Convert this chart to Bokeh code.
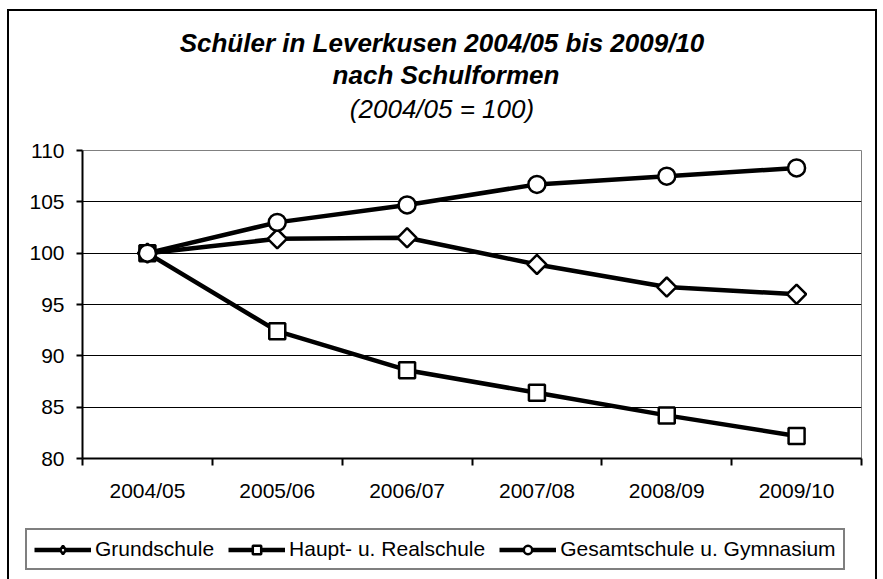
from bokeh.plotting import figure
from bokeh.layouts import column
from bokeh.models import Range1d, FixedTicker, Label, Legend, LegendItem
from bokeh.embed import file_html
from bokeh.resources import INLINE
import math

years = ["2004/05", "2005/06", "2006/07", "2007/08", "2008/09", "2009/10"]
grundschule = [100.0, 101.4, 101.5, 98.9, 96.7, 96.0]
haupt_real = [100.0, 92.4, 88.6, 86.4, 84.2, 82.2]
gesamt_gym = [100.0, 103.0, 104.7, 106.7, 107.5, 108.3]
y_ticks = [80, 85, 90, 95, 100, 105, 110]

title1 = "Schüler in Leverkusen 2004/05 bis 2009/10"
title2 = "nach Schulformen"
subtitle = "(2004/05 = 100)"
names = ["Grundschule", "Haupt- u. Realschule", "Gesamtschule u. Gymnasium"]

FONT = "Liberation Sans"
W, HT, HA, HB = 866, 120, 395, 53

xs = [i + 0.5 for i in range(len(years))]


def blank_figure(height):
    f = figure(width=W, height=height, output_backend="svg", toolbar_location=None,
               x_axis_type=None, y_axis_type=None, min_border=0,
               x_range=Range1d(0, 1), y_range=Range1d(0, 1))
    f.frame_align = False
    f.outline_line_color = None
    f.xgrid.grid_line_color = None
    f.ygrid.grid_line_color = None
    f.background_fill_color = "white"
    f.border_fill_color = "white"
    return f


# ---- title strip
t = blank_figure(HT)
for txt, tx, ty, style in [(title1, 432.5, 89.0, "bold italic"),
                           (title2, 436.5, 57.0, "bold italic"),
                           (subtitle, 432.5, 23.0, "italic")]:
    t.add_layout(Label(x=tx, y=ty, x_units="screen", y_units="screen", text=txt,
                       text_font=FONT, text_font_size="26px", text_font_style=style,
                       text_align="center", text_baseline="alphabetic", text_color="black"))

# ---- main plot
p = figure(width=W, height=HA, output_backend="svg", toolbar_location=None,
           x_range=Range1d(0, len(years)), y_range=Range1d(y_ticks[0], y_ticks[-1]),
           min_border_left=73, min_border_right=14, min_border_top=19, min_border_bottom=68)
p.frame_align = False
p.background_fill_color = "white"
p.border_fill_color = "white"
p.outline_line_color = "#808080"
p.outline_line_width = 1

p.xaxis.ticker = FixedTicker(ticks=xs, minor_ticks=list(range(len(years) + 1)))
p.xaxis.major_label_overrides = {x: y for x, y in zip(xs, years)}
p.xaxis.major_tick_out = 0
p.xaxis.major_tick_in = 0
p.xaxis.minor_tick_out = 7
p.xaxis.minor_tick_in = 0
p.xaxis.minor_tick_line_color = "black"
p.xaxis.minor_tick_line_width = 2
p.xaxis.major_label_standoff = 13
p.yaxis.ticker = FixedTicker(ticks=y_ticks)
p.yaxis.minor_tick_line_color = None
p.yaxis.major_tick_out = 6
p.yaxis.major_tick_in = 0
p.yaxis.major_label_standoff = 12
for ax in (p.xaxis, p.yaxis):
    ax.axis_line_color = "black"
    ax.axis_line_width = 2
    ax.major_tick_line_color = "black"
    ax.major_tick_line_width = 2
    ax.major_label_text_font = FONT
    ax.major_label_text_font_size = "21px"
    ax.major_label_text_color = "black"

p.xgrid.grid_line_color = None
p.ygrid.grid_line_color = "black"
p.ygrid.grid_line_width = 1

LW = 4.5
line_kw = dict(line_color="black", line_width=LW)
mark_kw = dict(fill_color="white", line_color="black", line_width=2.5)
markers = [dict(marker="square", angle=math.pi / 4, size=13.5),
           dict(marker="square", size=16),
           dict(marker="circle", size=17)]
legend_markers = [dict(marker="diamond"), dict(marker="square"), dict(marker="circle")]
all_series = [grundschule, haupt_real, gesamt_gym]
for series, mk in zip(all_series, markers):
    p.line(xs, series, **line_kw)
    p.scatter(xs, series, **mk, **mark_kw)

# ---- legend strip (its renderers lie outside its own ranges; only the key shows)
q = blank_figure(HB)
items = []
for name, series, mk in zip(names, all_series, legend_markers):
    lr = q.line(xs, series, **line_kw)
    sr = q.scatter(xs, series, **mk, **mark_kw)
    items.append(LegendItem(label=name, renderers=[lr, sr]))
legend = Legend(items=items, orientation="horizontal", location=(16, 9),
                glyph_width=57, glyph_height=21, label_height=21, label_standoff=4,
                spacing=14, padding=7, margin=0,
                label_text_font=FONT, label_text_font_size="21px",
                label_text_color="black",
                border_line_color="black", border_line_width=2,
                background_fill_color="white", background_fill_alpha=1)
q.add_layout(legend, "center")

layout = column(t, p, q, spacing=0,
                styles={"margin-left": "9px", "margin-top": "11px",
                        "box-shadow": "0 0 0 2px black"})

open("out.html", "w").write(file_html(layout, INLINE))
